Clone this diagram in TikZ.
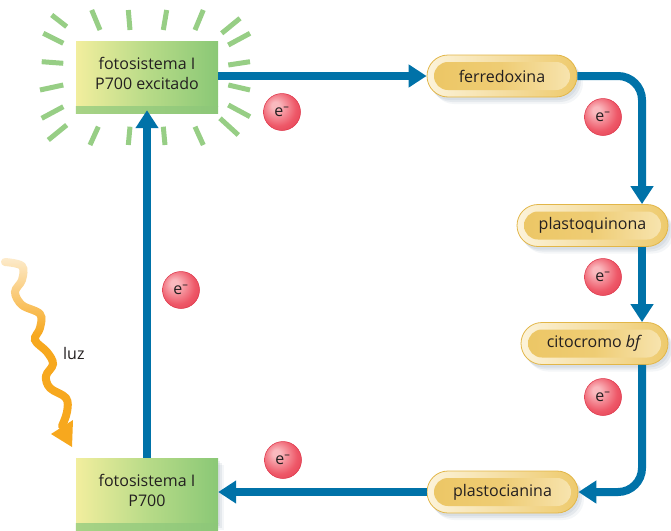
\documentclass[tikz,border=0pt]{standalone}
\usepackage{fontspec}
\setmainfont{Open Sans}
\usetikzlibrary{arrows.meta,shapes.misc,shadows,fadings,calc}
\definecolor{arrowblue}{RGB}{0,114,168}
\definecolor{gyellow}{RGB}{242,238,158}
\definecolor{ggreen}{RGB}{138,200,118}
\definecolor{gmid}{RGB}{184,219,136}
\definecolor{gstripeL}{RGB}{168,211,134}
\definecolor{gstripeR}{RGB}{140,199,120}
\definecolor{raygreen}{RGB}{140,201,120}
\definecolor{pillborder}{RGB}{226,182,72}
\definecolor{pillcream}{RGB}{252,243,218}
\definecolor{pillgold}{RGB}{238,202,108}
\definecolor{innergold}{RGB}{236,198,100}
\definecolor{innerlight}{RGB}{248,230,180}
\definecolor{luzorange}{RGB}{247,168,30}
\definecolor{txt}{RGB}{35,31,32}
\definecolor{eleclight}{RGB}{250,185,190}
\definecolor{elecmid}{RGB}{238,88,104}
\definecolor{elecdark}{RGB}{222,52,72}
\definecolor{shadowblue}{RGB}{120,140,160}
\pgfdeclareradialshading{electron}{\pgfpoint{-10bp}{10bp}}{color(0bp)=(eleclight); color(5bp)=(eleclight); color(24bp)=(elecmid); color(42bp)=(elecdark); color(50bp)=(elecdark)}
\begin{document}
\begin{tikzpicture}[x=1pt,y=-1pt,
  font=\fontsize{16}{20}\selectfont, text=txt,
  softshadow/.style={
    drop shadow={shadow xshift=2pt, shadow yshift=-3pt, fill=shadowblue, opacity=0.12},
    drop shadow={shadow xshift=4pt, shadow yshift=-5pt, fill=shadowblue, opacity=0.12},
    drop shadow={shadow xshift=6pt, shadow yshift=-7pt, fill=shadowblue, opacity=0.08}},
  psbox/.style={rectangle, minimum width=142pt, minimum height=65pt, inner sep=0pt,
    align=center, left color=gyellow, right color=ggreen, middle color=gmid},
  stripe/.style={left color=gstripeL, right color=gstripeR},
  pill/.style={rounded rectangle, minimum height=42pt, inner sep=0pt,
    draw=pillborder, line width=0.8pt, left color=pillcream, right color=pillgold,
    softshadow,
    path picture={\path[left color=innergold, right color=innerlight,
      middle color=innergold!80!innerlight, rounded corners=13.9pt]
      ([xshift=7pt,yshift=7pt]path picture bounding box.south west) rectangle
      ([xshift=-7pt,yshift=-7pt]path picture bounding box.north east);}},
  elec/.style={circle, minimum size=37pt, inner sep=0pt, shading=electron,
    draw=elecdark, line width=0.5pt},
  flow/.style={draw=arrowblue, line width=8pt, -{Triangle[width=22pt,length=18pt]}},
  ray/.style={draw=raygreen, line width=5pt, opacity=0.9},
  wave/.style={draw=luzorange, line width=8pt, line cap=round}]
\useasboundingbox (0,0) rectangle (671,530);

% glow rays
\foreach \a/\b/\c/\d in {51.7/15/66.7/26.7, 91.7/10/100/30, 128.3/10/130/30,
  166.7/10/163.3/30, 203.3/10/195/30, 240/18.3/221.7/33.3, 250/33.3/228.3/45,
  250/61.7/228.3/65, 250/90/228.3/85, 250/116.7/228.3/105, 238.3/135/220/118.3,
  203.3/145/195/126.7, 165/145/163.3/126.7, 128.3/145/130/126.7, 90/145/98.3/126.7,
  48.3/140/66.7/125, 41.7/118.3/63.3/106.7, 40/90/63.3/85, 41.7/61.7/63.3/63.3,
  43.3/33.3/63.3/43.3}
  \draw[ray] (\a,\b) -- (\c,\d);

% photosystem boxes
\node[psbox] (fsx) at (147,73.5) {fotosistema I\\P700 excitado};
\fill[stripe] (fsx.south west) rectangle ([yshift=-7pt]fsx.south east);
\node[psbox, softshadow] (fsp) at (147,490.5) {fotosistema I\\P700};
\fill[stripe] (fsp.south west) rectangle ([yshift=-7pt]fsp.south east);

% carriers
\node[pill, minimum width=150pt] (ferr) at (502,76) {ferredoxina};
\node[pill, minimum width=151pt] (pq) at (592.5,225.5) {plastoquinona};
\node[pill, minimum width=147pt] (cb) at (594.5,343.5) {citocromo \textit{bf}};
\node[pill, minimum width=151pt] (pc) at (502.5,492) {plastocianina};

% flow arrows
\coordinate (rx) at (642,0);
\draw[flow] (fsx.east |- ferr.west) -- (ferr.west);
\draw[flow, rounded corners=24pt] (ferr.east) -| (rx |- pq.north);
\draw[flow] (rx |- pq.south) -- (rx |- cb.north);
\draw[flow, rounded corners=24pt] (rx |- cb.south) |- (pc.east);
\draw[flow] (pc.west) -- (fsp.east |- pc.west);
\draw[flow] (fsp.north) -- ([yshift=-4pt]fsx.south);

% electrons
\node[elec] (e1) at (282,112) {e\textsuperscript{–}};
\node[elec] (e2) at (603,117) {e\textsuperscript{–}};
\node[elec] (e3) at (603,277) {e\textsuperscript{–}};
\node[elec] (e4) at (603,397) {e\textsuperscript{–}};
\node[elec] (e5) at (181,290) {e\textsuperscript{–}};
\node[elec] (e6) at (283,460) {e\textsuperscript{–}};

% light
\draw[wave] plot[smooth, tension=0.6] coordinates {(5,262) (22,266) (22,280) (15,292)
  (22,305) (40,314) (40,328) (35,340) (47,352) (53,364) (46,376) (50,388) (66,398)
  (67,412) (62,426)};
\fill[luzorange] (51,434) -- (73,420) -- (72,447) -- cycle;
\fill[white, opacity=0.9, path fading=south] (-5,245) rectangle (45,335);
\node[anchor=west, inner sep=0pt] (luz) at (63,353) {luz};
\end{tikzpicture}
\end{document}
